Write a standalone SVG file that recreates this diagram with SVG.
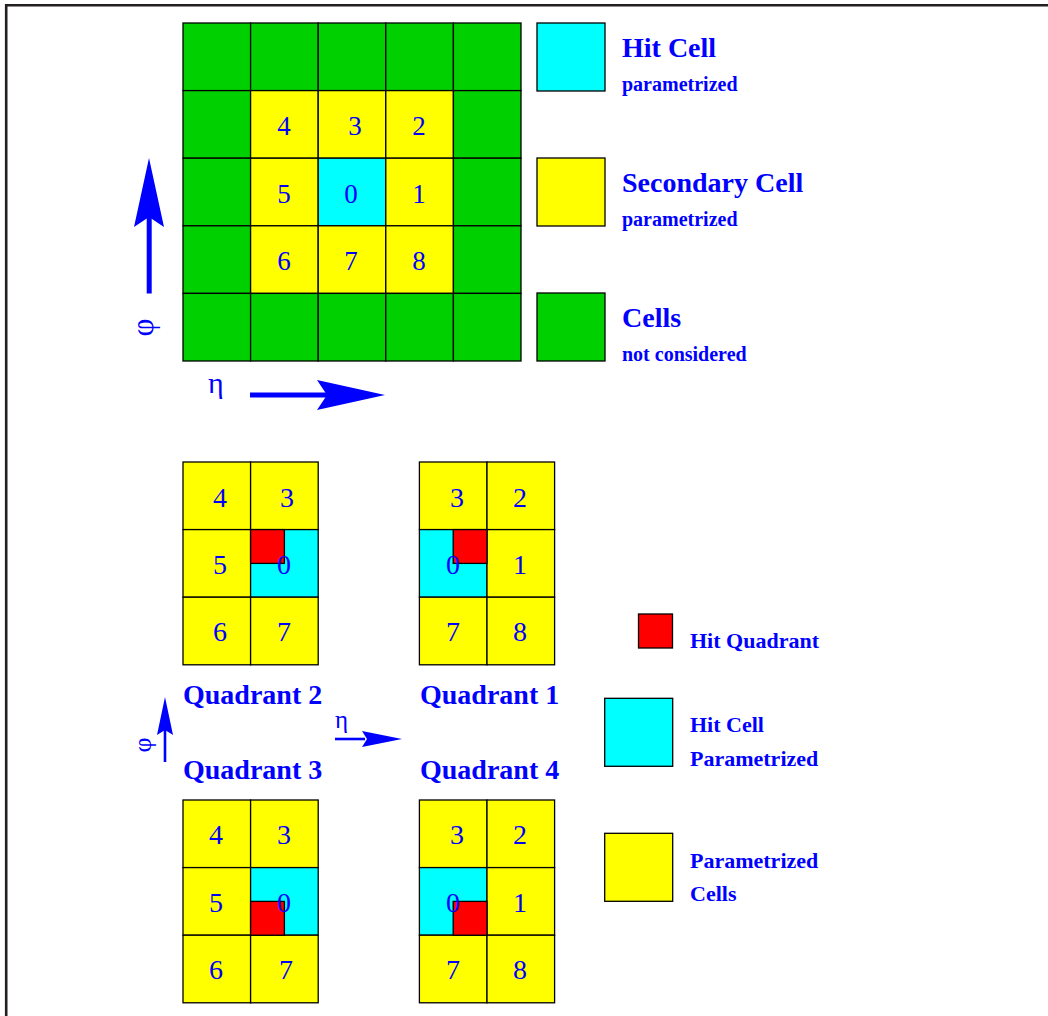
<svg xmlns="http://www.w3.org/2000/svg" width="1048" height="1016" viewBox="0 0 1048 1016">
<style>
.g{fill:#00d000;stroke:#000;stroke-width:1.3}
.y{fill:#ffff00;stroke:#000;stroke-width:1.3}
.c{fill:#00ffff;stroke:#000;stroke-width:1.3}
.r{fill:#ff0000;stroke:#000;stroke-width:1.3}
.n{font-family:"Liberation Serif",serif;font-size:27px;fill:#0000ff;text-anchor:middle}
.q{font-size:28px}
.lb{font-family:"Liberation Serif",serif;font-weight:bold;fill:#0000ff}
.big{font-size:28px}
.sm{font-size:20px}
.md{font-size:22px}
.sym{font-family:"Liberation Serif",serif;fill:#0000ff}
.ar{fill:#0000ff;stroke:none}
</style>
<rect width="1048" height="1016" fill="#fff"/>
<path d="M6.2,1016 V5.3 H1048" fill="none" stroke="#231f20" stroke-width="2.6"/>

<g id="main-grid">
<rect class="g" x="183" y="23" width="67.6" height="67.6"/>
<rect class="g" x="250.6" y="23" width="67.6" height="67.6"/>
<rect class="g" x="318.2" y="23" width="67.6" height="67.6"/>
<rect class="g" x="385.8" y="23" width="67.6" height="67.6"/>
<rect class="g" x="453.4" y="23" width="67.6" height="67.6"/>
<rect class="g" x="183" y="90.6" width="67.6" height="67.6"/>
<rect class="y" x="250.6" y="90.6" width="67.6" height="67.6"/>
<rect class="y" x="318.2" y="90.6" width="67.6" height="67.6"/>
<rect class="y" x="385.8" y="90.6" width="67.6" height="67.6"/>
<rect class="g" x="453.4" y="90.6" width="67.6" height="67.6"/>
<rect class="g" x="183" y="158.2" width="67.6" height="67.6"/>
<rect class="y" x="250.6" y="158.2" width="67.6" height="67.6"/>
<rect class="c" x="318.2" y="158.2" width="67.6" height="67.6"/>
<rect class="y" x="385.8" y="158.2" width="67.6" height="67.6"/>
<rect class="g" x="453.4" y="158.2" width="67.6" height="67.6"/>
<rect class="g" x="183" y="225.8" width="67.6" height="67.6"/>
<rect class="y" x="250.6" y="225.8" width="67.6" height="67.6"/>
<rect class="y" x="318.2" y="225.8" width="67.6" height="67.6"/>
<rect class="y" x="385.8" y="225.8" width="67.6" height="67.6"/>
<rect class="g" x="453.4" y="225.8" width="67.6" height="67.6"/>
<rect class="g" x="183" y="293.4" width="67.6" height="67.6"/>
<rect class="g" x="250.6" y="293.4" width="67.6" height="67.6"/>
<rect class="g" x="318.2" y="293.4" width="67.6" height="67.6"/>
<rect class="g" x="385.8" y="293.4" width="67.6" height="67.6"/>
<rect class="g" x="453.4" y="293.4" width="67.6" height="67.6"/>
<text class="n" x="284" y="135">4</text>
<text class="n" x="355" y="135">3</text>
<text class="n" x="419" y="135">2</text>
<text class="n" x="284" y="202.5">5</text>
<text class="n" x="351" y="202.5">0</text>
<text class="n" x="419" y="202.5">1</text>
<text class="n" x="284" y="270">6</text>
<text class="n" x="351" y="270">7</text>
<text class="n" x="419" y="270">8</text>
</g>

<g id="legend-hit-cell">
<rect class="c" x="537" y="23" width="68" height="68"/>
<text class="lb big" x="622" y="57">Hit Cell</text>
<text class="lb sm" x="622" y="91">parametrized</text>
</g>
<g id="legend-secondary-cell">
<rect class="y" x="537" y="158" width="68" height="68"/>
<text class="lb big" x="622" y="192">Secondary Cell</text>
<text class="lb sm" x="622" y="226">parametrized</text>
</g>
<g id="legend-cells">
<rect class="g" x="537" y="293" width="68" height="68"/>
<text class="lb big" x="622" y="327">Cells</text>
<text class="lb sm" x="622" y="361">not considered</text>
</g>

<g id="connectors">
<g id="phi-arrow-main">
<rect class="ar" x="146.7" y="214" width="5" height="79.5"/>
<polygon class="ar" points="149,158 164,227 149,217 134,227"/>
</g>
<g id="eta-arrow-main">
<rect class="ar" x="250" y="392.5" width="80" height="5"/>
<polygon class="ar" points="385,395 317,380 327,395 317,410"/>
</g>
<g id="phi-arrow-small">
<rect class="ar" x="163.7" y="728" width="2.6" height="34"/>
<polygon class="ar" points="165,697 173,735 165,730 157,735"/>
</g>
<g id="eta-arrow-small">
<rect class="ar" x="335" y="737.7" width="30" height="2.6"/>
<polygon class="ar" points="402,739 362,731 367,739 362,747"/>
</g>
</g>

<g id="axis-labels">
<text class="sym" font-size="31" text-anchor="middle" transform="translate(153,327.5) rotate(-90)">φ</text>
<text class="sym" font-size="30" x="208" y="393">η</text>
<text class="sym" font-size="26" text-anchor="middle" transform="translate(151,745) rotate(-90)">φ</text>
<text class="sym" font-size="25" x="335" y="728">η</text>
</g>

<g id="quadrant-2">
<rect class="y" x="183" y="462" width="67.6" height="67.6"/>
<rect class="y" x="250.6" y="462" width="67.6" height="67.6"/>
<rect class="y" x="183" y="529.6" width="67.6" height="67.6"/>
<rect class="c" x="250.6" y="529.6" width="67.6" height="67.6"/>
<rect class="y" x="183" y="597.2" width="67.6" height="67.6"/>
<rect class="y" x="250.6" y="597.2" width="67.6" height="67.6"/>
<rect class="r" x="250.6" y="529.6" width="33.8" height="33.8"/>
<text class="n q" x="220" y="506.5">4</text>
<text class="n q" x="287" y="506.5">3</text>
<text class="n q" x="220" y="574">5</text>
<text class="n q" x="284" y="574">0</text>
<text class="n q" x="220" y="641">6</text>
<text class="n q" x="284" y="641">7</text>
<text class="lb big" x="183" y="704">Quadrant 2</text>
</g>

<g id="quadrant-1">
<rect class="y" x="419.4" y="462" width="67.6" height="67.6"/>
<rect class="y" x="487" y="462" width="67.6" height="67.6"/>
<rect class="c" x="419.4" y="529.6" width="67.6" height="67.6"/>
<rect class="y" x="487" y="529.6" width="67.6" height="67.6"/>
<rect class="y" x="419.4" y="597.2" width="67.6" height="67.6"/>
<rect class="y" x="487" y="597.2" width="67.6" height="67.6"/>
<rect class="r" x="453.2" y="529.6" width="33.8" height="33.8"/>
<text class="n q" x="457" y="506.5">3</text>
<text class="n q" x="520" y="506.5">2</text>
<text class="n q" x="453" y="574">0</text>
<text class="n q" x="520" y="574">1</text>
<text class="n q" x="453" y="641">7</text>
<text class="n q" x="520" y="641">8</text>
<text class="lb big" x="420" y="704">Quadrant 1</text>
</g>

<g id="quadrant-3">
<rect class="y" x="183" y="800" width="67.6" height="67.6"/>
<rect class="y" x="250.6" y="800" width="67.6" height="67.6"/>
<rect class="y" x="183" y="867.6" width="67.6" height="67.6"/>
<rect class="c" x="250.6" y="867.6" width="67.6" height="67.6"/>
<rect class="y" x="183" y="935.2" width="67.6" height="67.6"/>
<rect class="y" x="250.6" y="935.2" width="67.6" height="67.6"/>
<rect class="r" x="250.6" y="901.4" width="33.8" height="33.8"/>
<text class="n q" x="216" y="844">4</text>
<text class="n q" x="284" y="844">3</text>
<text class="n q" x="216" y="911.5">5</text>
<text class="n q" x="284" y="911.5">0</text>
<text class="n q" x="216" y="979">6</text>
<text class="n q" x="286" y="979">7</text>
<text class="lb big" x="183" y="779">Quadrant 3</text>
</g>

<g id="quadrant-4">
<rect class="y" x="419.4" y="800" width="67.6" height="67.6"/>
<rect class="y" x="487" y="800" width="67.6" height="67.6"/>
<rect class="c" x="419.4" y="867.6" width="67.6" height="67.6"/>
<rect class="y" x="487" y="867.6" width="67.6" height="67.6"/>
<rect class="y" x="419.4" y="935.2" width="67.6" height="67.6"/>
<rect class="y" x="487" y="935.2" width="67.6" height="67.6"/>
<rect class="r" x="453.2" y="901.4" width="33.8" height="33.8"/>
<text class="n q" x="457" y="844">3</text>
<text class="n q" x="520" y="844">2</text>
<text class="n q" x="453" y="911.5">0</text>
<text class="n q" x="520" y="911.5">1</text>
<text class="n q" x="453" y="979">7</text>
<text class="n q" x="520" y="979">8</text>
<text class="lb big" x="420" y="779">Quadrant 4</text>
</g>

<g id="legend-hit-quadrant">
<rect class="r" x="638.5" y="614" width="34" height="34"/>
<text class="lb md" x="690" y="648">Hit Quadrant</text>
</g>
<g id="legend-hit-cell-parametrized">
<rect class="c" x="604.7" y="698.3" width="68" height="68"/>
<text class="lb md" x="690" y="732">Hit Cell</text>
<text class="lb md" x="690" y="766">Parametrized</text>
</g>
<g id="legend-parametrized-cells">
<rect class="y" x="604.7" y="833.3" width="68" height="68"/>
<text class="lb md" x="690" y="868">Parametrized</text>
<text class="lb md" x="690" y="901">Cells</text>
</g>
</svg>
